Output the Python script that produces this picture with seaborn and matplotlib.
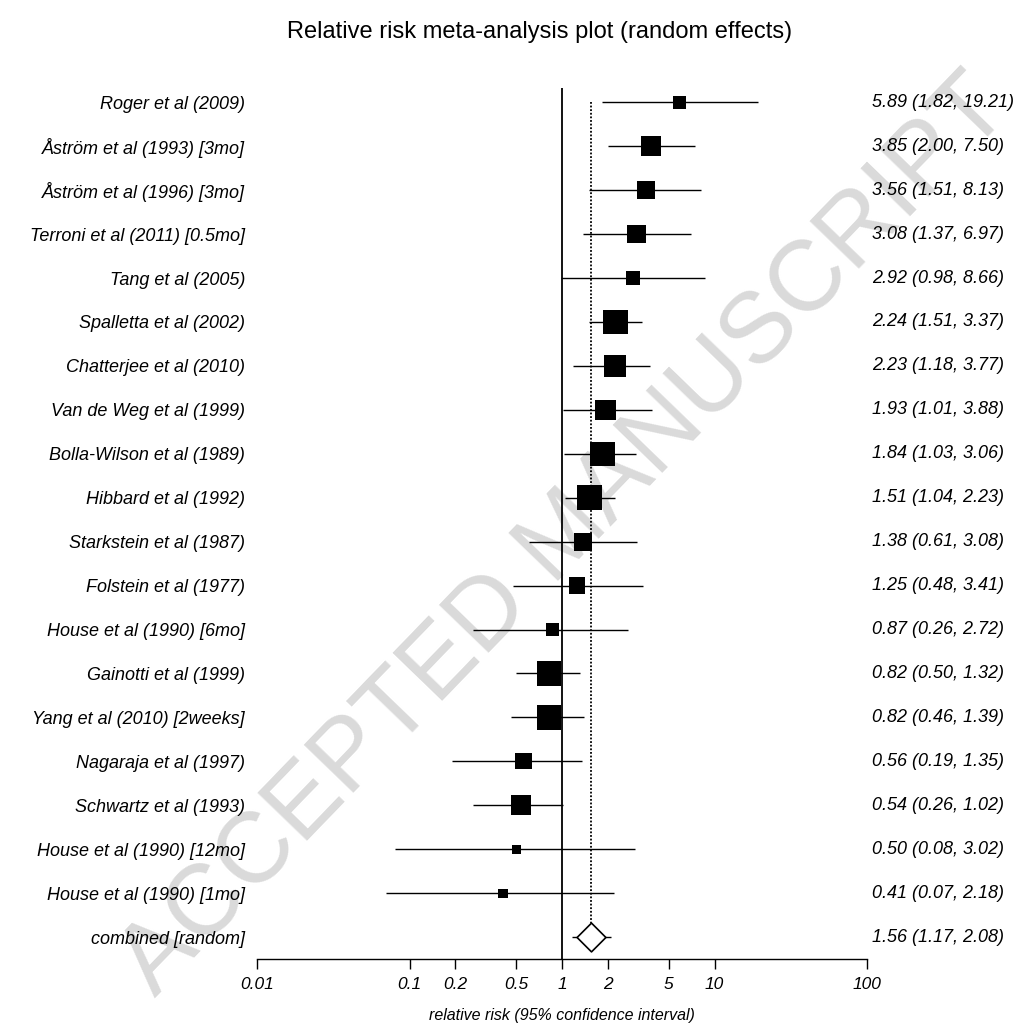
import numpy as np
import pandas as pd
import matplotlib
matplotlib.use('Agg')
import matplotlib.pyplot as plt
import matplotlib.transforms as mtransforms
from matplotlib.ticker import NullLocator
import seaborn as sns

# Study data (relative risk with 95% CI) and relative weights (%)
studies = ["Roger et al (2009)", "Åström et al (1993) [3mo]", "Åström et al (1996) [3mo]",
           "Terroni et al (2011) [0.5mo]", "Tang et al (2005)", "Spalletta et al (2002)",
           "Chatterjee et al (2010)", "Van de Weg et al (1999)", "Bolla-Wilson et al (1989)",
           "Hibbard et al (1992)", "Starkstein et al (1987)", "Folstein et al (1977)",
           "House et al (1990) [6mo]", "Gainotti et al (1999)", "Yang et al (2010) [2weeks]",
           "Nagaraja et al (1997)", "Schwartz et al (1993)", "House et al (1990) [12mo]",
           "House et al (1990) [1mo]"]
rr = [5.89, 3.85, 3.56, 3.08, 2.92, 2.24, 2.23, 1.93, 1.84, 1.51, 1.38, 1.25, 0.87, 0.82, 0.82,
      0.56, 0.54, 0.50, 0.41]
ci_low = [1.82, 2.00, 1.51, 1.37, 0.98, 1.51, 1.18, 1.01, 1.03, 1.04, 0.61, 0.48, 0.26, 0.50,
          0.46, 0.19, 0.26, 0.08, 0.07]
ci_high = [19.21, 7.50, 8.13, 6.97, 8.66, 3.37, 3.77, 3.88, 3.06, 2.23, 3.08, 3.41, 2.72, 1.32,
           1.39, 1.35, 1.02, 3.02, 2.18]
weights = [2.5, 5.9, 4.8, 4.8, 2.9, 8.5, 7.1, 5.9, 8.5, 9.2, 4.8, 3.8, 2.5, 8.5, 8.5, 3.8, 5.9,
           1.2, 1.2]

combined_label = "combined [random]"
combined_rr = 1.56
combined_low = 1.17
combined_high = 2.08

xticks = [0.01, 0.1, 0.2, 0.5, 1, 2, 5, 10, 100]
xtick_labels = ["0.01", "0.1", "0.2", "0.5", "1", "2", "5", "10", "100"]

sns.set_theme(style="white")
plt.rcParams['font.family'] = ['Liberation Sans', 'DejaVu Sans']
plt.rcParams.update({'text.color': 'black', 'axes.labelcolor': 'black',
                     'xtick.color': 'black', 'ytick.color': 'black'})

W, H = 1027, 1028
fig = plt.figure(figsize=(W / 100, H / 100), dpi=100)
ax = fig.add_axes([257 / W, 1 - 959 / H, 610 / W, (959 - 88) / H])

df = pd.DataFrame({"study": studies, "rr": rr, "lo": ci_low, "hi": ci_high, "weight": weights})
df["row"] = np.arange(len(df))
n = len(df)

# watermark
ax.text(0.55, 0.478, "ACCEPTED MANUSCRIPT", transform=fig.transFigure, rotation=46,
        rotation_mode='anchor', ha='center', va='center', fontsize=72, color='#dadada',
        zorder=0.5, clip_on=False)

# confidence intervals + weighted squares
ax.hlines(df["row"], df["lo"], df["hi"], color='black', lw=1.0, zorder=2)
area_per_weight = 36.0  # pt^2 per % weight
sns.scatterplot(data=df, x="rr", y="row", size="weight",
                sizes=(min(weights) * area_per_weight, max(weights) * area_per_weight),
                size_norm=(min(weights), max(weights)), marker='s', color='black',
                linewidth=0, legend=False, ax=ax, zorder=3)

# combined estimate
ax.hlines([n], [combined_low], [combined_high], color='black', lw=1.0, zorder=2)
ax.scatter([combined_rr], [n], marker='D', s=215, facecolor='white', edgecolor='black',
           linewidth=1.2, zorder=3)

ax.axvline(1, color='black', lw=1.3, zorder=2)
ax.vlines([combined_rr], 0, n - 0.33, color='black', lw=1.3, linestyles=(0, (1, 1)), zorder=2)

ax.set_xscale('log')
ax.set_xlim(0.01, 100)
ax.set_ylim(n + 0.5, -0.326)
ax.set_xticks(xticks)
ax.set_xticklabels(xtick_labels, style='italic', fontsize=12.5)
ax.xaxis.set_minor_locator(NullLocator())
ax.tick_params(axis='x', direction='out', length=7.2, width=1, color='black', pad=5.5,
               bottom=True)

ax.set_yticks(np.arange(n + 1))
ax.set_yticklabels(studies + [combined_label], style='italic', fontsize=13)
ax.tick_params(axis='y', length=0, pad=8.6)

for side in ['left', 'right', 'top']:
    ax.spines[side].set_visible(False)
ax.spines['bottom'].set_color('black')
ax.spines['bottom'].set_linewidth(1.0)
ax.set_facecolor('none')
ax.set_ylabel('')

ax.set_xlabel('relative risk (95% confidence interval)', style='italic', fontsize=11.5,
              labelpad=12)

# right-hand column of estimates
trans = mtransforms.blended_transform_factory(ax.transAxes, ax.transData)
for i, (r, l, h) in enumerate(zip(rr + [combined_rr], ci_low + [combined_low],
                                  ci_high + [combined_high])):
    ax.text(1.008, i, f"{r:.2f} ({l:.2f}, {h:.2f})", transform=trans, ha='left', va='center',
            style='italic', fontsize=13)

fig.text(540 / W, 1 - 32 / H, "Relative risk meta-analysis plot (random effects)",
         ha='center', va='center', fontsize=17)

fig.savefig("out.png", dpi=100, facecolor='white')
